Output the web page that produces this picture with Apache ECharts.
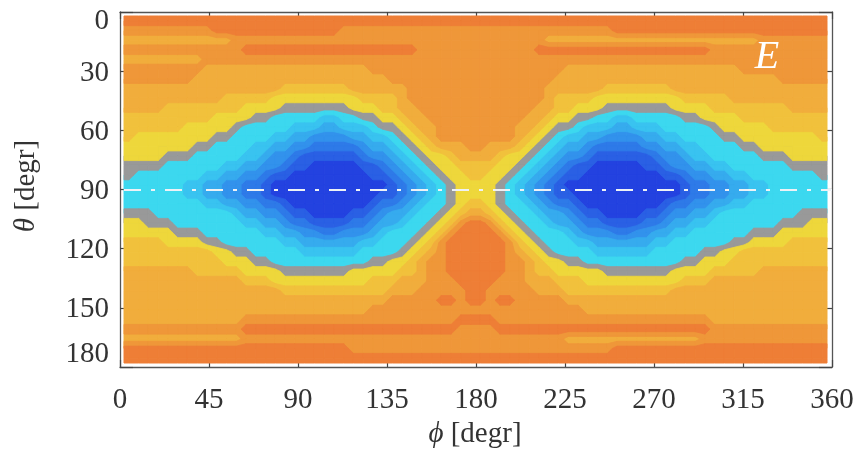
<!DOCTYPE html>
<html><head><meta charset="utf-8">
<script src="https://cdn.jsdelivr.net/npm/echarts@6/dist/echarts.min.js"></script>
<style>html,body{margin:0;padding:0;background:#fff}#c{width:861px;height:453px}</style>
</head><body><div id="c"></div>
<script>
// ---- data ----
const phiTicks = [0, 45, 90, 135, 180, 225, 270, 315, 360];
const thetaTicks = [0, 30, 60, 90, 120, 150, 180];
const phiStep = 5, thetaStep = 5;          // cell size of the read-off grid (degrees)
const equatorTheta = 90;                    // dash-dot guide line
const panelLabel = 'E';
// contour level colours, level 0 (deep blue) ... level 12 (dark orange)
const levelColors = ['#2342e0','#2a60e4','#2e7ae8','#3292ec','#36abee','#39c3f0','#3cd8ef',
                     '#999999','#eed73b','#f1c13c','#f1ad3c','#ef9739','#ee7e36'];
// level read per 5x5 degree cell; rows from theta 0 down, run-length coded "level*count", phi 0 -> 360
const upperRows = [
 "c*72",
 "b*9 c*13 b*28 c*22",
 "a*11 b*32 a*22 b*7",
 "b*12 c*18 b*12 c*18 b*12",
 "a*8 b*64",
 "b*8 a*17 b*20 a*18 b*9",
 "b*7 a*20 b*17 a*23 b*5",
 "a*16 9*7 a*6 b*7 | b*7 a*6 9*7 a*16",
 "a*10 9*5 8*9 9*4 a*1 b*7 | b*7 a*1 9*4 8*9 9*5 a*10",
 "a*4 9*8 8*4 7*7 8*3 9*2 a*2 b*6 | b*6 a*2 9*2 8*3 7*7 8*4 9*8 a*4",
 "9*9 8*4 7*2 6*5 5*2 6*2 7*2 8*2 9*1 a*2 b*5 | b*5 a*2 9*1 8*2 7*2 6*2 5*2 6*5 7*2 8*4 9*9",
 "9*6 8*5 7*1 6*5 5*3 4*2 5*3 6*1 7*2 8*1 9*1 a*2 b*4 | b*4 a*2 9*1 8*1 7*2 6*1 5*3 4*2 5*3 6*5 7*1 8*5 9*6",
 "9*1 8*8 7*2 6*4 5*2 4*2 3*4 4*2 5*2 6*1 7*1 8*1 9*1 a*1 b*4 | b*4 a*1 9*1 8*1 7*1 6*1 5*2 4*2 3*4 4*2 5*2 6*4 7*2 8*8 9*1",
 "8*7 7*2 6*4 5*2 4*2 3*2 2*5 3*1 4*2 5*1 6*1 7*1 8*1 9*1 a*3 b*1 | b*1 a*3 9*1 8*1 7*1 6*1 5*1 4*2 3*1 2*5 3*2 4*2 5*2 6*4 7*2 8*7",
 "8*4 7*3 6*5 5*2 4*1 3*2 2*1 1*6 2*1 3*2 4*1 5*1 6*1 7*1 8*2 9*1 a*2 | a*2 9*1 8*2 7*1 6*1 5*1 4*1 3*2 2*1 1*6 2*1 3*2 4*1 5*2 6*5 7*3 8*4",
 "7*4 6*6 5*2 4*2 3*2 2*1 1*2 0*5 1*2 2*1 3*1 4*1 5*1 6*1 7*1 8*2 9*2 | 9*2 8*2 7*1 6*1 5*1 4*1 3*1 2*1 1*2 0*5 1*2 2*1 3*2 4*2 5*2 6*6 7*4",
 "7*1 6*7 5*2 4*2 3*2 2*1 1*2 0*8 1*2 2*1 3*1 4*1 5*1 6*1 7*1 8*2 9*1 | 9*1 8*2 7*1 6*1 5*1 4*1 3*1 2*1 1*2 0*8 1*2 2*1 3*2 4*2 5*2 6*7 7*1",
 "6*6 5*2 4*2 3*2 2*2 1*1 0*12 1*1 2*1 3*1 4*1 5*1 6*1 7*1 8*2 | 8*2 7*1 6*1 5*1 4*1 3*1 2*1 1*1 0*12 1*1 2*2 3*2 4*2 5*2 6*6"
];
const lowerRows = [
 "6*6 5*2 4*2 3*2 2*2 1*1 0*11 1*2 2*1 3*1 4*1 5*1 6*1 7*1 8*2 | 8*2 7*1 6*1 5*1 4*1 3*1 2*1 1*2 0*11 1*1 2*2 3*2 4*2 5*2 6*6",
 "6*8 5*2 4*2 3*2 2*2 1*1 0*8 1*1 2*2 3*1 4*1 5*1 6*2 7*1 8*1 9*1 | 9*1 8*1 7*1 6*2 5*1 4*1 3*1 2*2 1*1 0*8 1*1 2*2 3*2 4*2 5*2 6*8",
 "7*3 6*8 5*1 4*2 3*2 2*1 1*2 0*4 1*2 2*1 3*1 4*2 5*1 6*2 7*1 8*1 9*1 a*1 | a*1 9*1 8*1 7*1 6*2 5*1 4*2 3*1 2*1 1*2 0*4 1*2 2*1 3*2 4*2 5*1 6*8 7*3",
 "8*2 7*3 6*7 5*2 4*2 3*1 2*2 1*4 2*2 3*1 4*2 5*1 6*2 7*1 8*1 9*1 b*1 c*1 | c*1 b*1 9*1 8*1 7*1 6*2 5*1 4*2 3*1 2*2 1*4 2*2 3*1 4*2 5*2 6*7 7*3 8*2",
 "8*5 7*3 6*6 5*2 4*2 3*2 2*2 3*3 4*1 5*1 6*3 7*1 8*1 9*1 b*1 c*2 | c*2 b*1 9*1 8*1 7*1 6*3 5*1 4*1 3*3 2*2 3*2 4*2 5*2 6*6 7*3 8*5",
 "9*4 8*4 7*2 6*6 5*2 4*6 5*2 6*3 7*1 8*1 9*1 b*1 c*3 | c*3 b*1 9*1 8*1 7*1 6*3 5*2 4*6 5*2 6*6 7*2 8*4 9*4",
 "9*9 8*2 7*2 6*5 5*6 6*4 7*1 8*1 9*1 a*1 b*1 c*3 | c*3 b*1 a*1 9*1 8*1 7*1 6*4 5*6 6*5 7*2 8*2 9*9",
 "9*10 8*3 7*2 6*10 7*2 8*2 9*1 a*1 b*2 c*3 | c*3 b*2 a*1 9*1 8*2 7*2 6*10 7*2 8*3 9*10",
 "a*7 9*5 8*4 7*7 8*5 9*2 a*1 b*2 c*3 | c*3 b*2 a*1 9*2 8*5 7*7 8*4 9*5 a*7",
 "a*12 9*3 8*10 9*3 a*3 b*3 c*2 | c*2 b*3 a*3 9*3 8*10 9*3 a*12",
 "a*16 9*11 a*3 b*5 c*1 | c*1 b*5 a*3 9*11 a*16",
 "a*27 b*5 c*2 b*1 c*1 | c*1 b*1 c*2 b*5 a*27",
 "a*25 b*11 | b*11 a*25",
 "a*12 b*22 c*2 | c*2 b*22 a*12",
 "b*12 c*22 b*2 | b*2 c*22 b*12",
 "a*12 b*33 a*14 b*13",
 "c*23 b*27 c*22",
 "c*72"
];

// ---- build ----
function decodeRow(s) {
  const out = [];
  s.replace(/\|/g, ' ').trim().split(/\s+/).forEach(t => {
    const p = t.split('*');
    for (let i = 0; i < +p[1]; i++) out.push(parseInt(p[0], 16));
  });
  return out;
}
const rows = upperRows.concat(lowerRows).map(decodeRow);
const nC = 360 / phiStep, nR = 180 / thetaStep;
rows.forEach((r, i) => { if (r.length !== nC) console.error('row', i, 'has', r.length); });
// node positions: cell centres plus the frame edges (edge nodes repeat the edge cells)
const P = [0], T = [0];
for (let k = 0; k < nC; k++) P.push(phiStep * k + phiStep / 2);
for (let j = 0; j < nR; j++) T.push(thetaStep * j + thetaStep / 2);
P.push(360); T.push(180);
const V = [];
for (let i = 0; i < nR + 2; i++) {
  const r = rows[Math.min(Math.max(i - 1, 0), nR - 1)];
  const line = [];
  for (let j = 0; j < nC + 2; j++) line.push(r[Math.min(Math.max(j - 1, 0), nC - 1)]);
  V.push(line);
}
const squares = [];
for (let i = 0; i < nR + 1; i++)
  for (let j = 0; j < nC + 1; j++)
    squares.push([(P[j] + P[j + 1]) / 2, (T[i] + T[i + 1]) / 2, j, i]);

// filled contour bands (marching squares on the level grid), painted level by level
function renderSquare(params, api) {
  const j = api.value(2), i = api.value(3);
  const cs = [[P[j], T[i], V[i][j]], [P[j + 1], T[i], V[i][j + 1]],
              [P[j + 1], T[i + 1], V[i + 1][j + 1]], [P[j], T[i + 1], V[i + 1][j]]];
  const vals = cs.map(c => c[2]);
  const lo = Math.min.apply(null, vals), hi = Math.max.apply(null, vals);
  const pt = (x, y) => api.coord([x, y]);
  const children = [{ type: 'polygon', z2: lo, shape: { points: cs.map(c => pt(c[0], c[1])) },
    style: { fill: levelColors[lo], stroke: levelColors[lo], lineWidth: 1 } }];
  for (let L = lo + 1; L <= hi; L++) {
    const t = L - 0.5, pts = [];
    for (let q = 0; q < 4; q++) {
      const a = cs[q], b = cs[(q + 1) % 4];
      const ina = a[2] >= t, inb = b[2] >= t;
      if (ina) pts.push(pt(a[0], a[1]));
      if (ina !== inb) {
        const f = (t - a[2]) / (b[2] - a[2]);
        pts.push(pt(a[0] + f * (b[0] - a[0]), a[1] + f * (b[1] - a[1])));
      }
    }
    children.push({ type: 'polygon', z2: L, shape: { points: pts },
      style: { fill: levelColors[L], stroke: levelColors[L], lineWidth: 0.8 } });
  }
  return { type: 'group', children: children };
}

const FONT = "'Liberation Serif','DejaVu Serif',serif";
const ink = '#333';
const frameLine = { show: true, onZero: false, lineStyle: { color: '#555', width: 1.3 } };
const tickX = { inside: true, length: 7, lineStyle: { color: '#444', width: 1.2 } };
const tickY = { inside: true, length: 13, lineStyle: { color: '#444', width: 1.2 } };

const chart = echarts.init(document.getElementById('c'), null, { renderer: 'canvas' });
chart.setOption({
  animation: false,
  backgroundColor: '#fff',
  grid: [
    { left: 124, top: 16, width: 703, height: 347 },
    { left: 120, top: 12, width: 712, height: 355 }
  ],
  xAxis: [
    { type: 'value', gridIndex: 0, min: 0, max: 360, show: false },
    { type: 'value', gridIndex: 1, position: 'bottom', min: phiTicks[0], max: phiTicks[phiTicks.length - 1], interval: 45,
      axisLine: frameLine, splitLine: { show: false }, axisTick: tickX,
      axisLabel: { margin: 19, fontFamily: FONT, fontSize: 29, color: ink } },
    { type: 'value', gridIndex: 1, position: 'top', min: phiTicks[0], max: phiTicks[phiTicks.length - 1], interval: 45,
      axisLine: frameLine, splitLine: { show: false }, axisTick: tickX, axisLabel: { show: false } }
  ],
  yAxis: [
    { type: 'value', gridIndex: 0, min: 0, max: 180, inverse: true, show: false },
    { type: 'value', gridIndex: 1, position: 'left', inverse: true, min: thetaTicks[0], max: thetaTicks[thetaTicks.length - 1], interval: 30,
      axisLine: frameLine, splitLine: { show: false }, axisTick: tickY,
      axisLabel: { margin: 11, fontFamily: FONT, fontSize: 29, color: ink,
        formatter: v => v === thetaTicks[0] ? '{lo|' + v + '}' : v === thetaTicks[thetaTicks.length - 1] ? '{hi|' + v + '}' : '{n|' + v + '}',
        rich: {
          n: { fontFamily: FONT, fontSize: 29, color: ink, padding: [4, 0, 0, 0] },
          lo: { fontFamily: FONT, fontSize: 29, color: ink, padding: [18, 0, 0, 0] },
          hi: { fontFamily: FONT, fontSize: 29, color: ink, padding: [0, 0, 26, 0] }
        } } },
    { type: 'value', gridIndex: 1, position: 'right', inverse: true, min: thetaTicks[0], max: thetaTicks[thetaTicks.length - 1], interval: 30,
      axisLine: frameLine, splitLine: { show: false }, axisTick: tickY, axisLabel: { show: false } }
  ],
  series: [
    { type: 'custom', coordinateSystem: 'cartesian2d', xAxisIndex: 0, yAxisIndex: 0,
      data: squares, encode: { x: 0, y: 1 }, renderItem: renderSquare, silent: true, progressive: 0, z: 1 },
    { type: 'line', xAxisIndex: 1, yAxisIndex: 1, data: [], silent: true, z: 5,
      markLine: { silent: true, symbol: 'none', label: { show: false },
        lineStyle: { color: '#eef2f6', width: 2, type: [17, 10, 4, 10], dashOffset: 37 },
        data: [{ yAxis: equatorTheta }] } }
  ],
  graphic: [
    { type: 'text', x: 475, y: 434, z: 100,
      style: { text: '{i|ϕ} [degr]', fill: ink, font: '29px ' + FONT, textAlign: 'center', textVerticalAlign: 'middle',
        rich: { i: { fontFamily: FONT, fontSize: 29, fontStyle: 'italic', fill: ink } } } },
    { type: 'text', x: 26, y: 186, rotation: Math.PI / 2, z: 100,
      style: { text: '{i|θ} [degr]', fill: ink, font: '29px ' + FONT, textAlign: 'center', textVerticalAlign: 'middle',
        rich: { i: { fontFamily: FONT, fontSize: 29, fontStyle: 'italic', fill: ink } } } },
    { type: 'text', x: 767, y: 57, z: 100,
      style: { text: panelLabel, font: 'italic 40px ' + FONT, fill: '#ffffff', textAlign: 'center', textVerticalAlign: 'middle' } }
  ]
});
</script></body></html>
